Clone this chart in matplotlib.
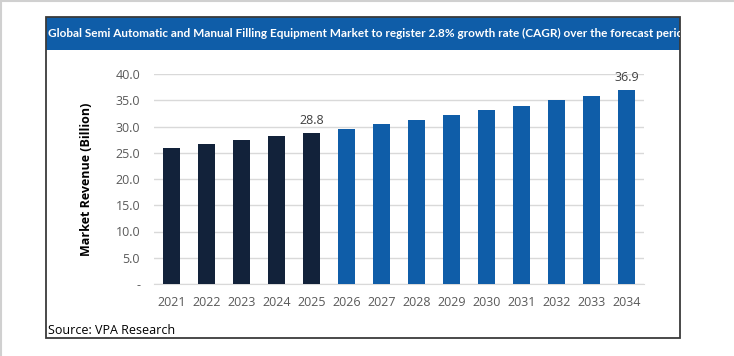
import numpy as np
import matplotlib.pyplot as plt
from matplotlib.patches import Rectangle

years = ['2021', '2022', '2023', '2024', '2025', '2026', '2027',
         '2028', '2029', '2030', '2031', '2032', '2033', '2034']
revenue = [26.0, 26.7, 27.4, 28.1, 28.8, 29.6, 30.4,
           31.3, 32.2, 33.1, 34.0, 35.0, 35.9, 36.9]
n_hist = 5  # 2021-2025 actual, rest forecast
labelled = ['2025', '2034']
yticks = [0, 5, 10, 15, 20, 25, 30, 35, 40]

title = ('Global Semi Automatic and Manual Filling Equipment Market to register '
         '2.8% growth rate (CAGR) over the forecast period')

navy = '#12223A'
blue = '#0F5DA8'
gray_txt = '#595959'

W, H = 734, 356
fig = plt.figure(figsize=(W / 100, H / 100), dpi=100)
fig.patch.set_facecolor('white')

def fx(px):
    return px / W

def fy(py):
    return 1 - py / H

# outer page lines
fig.add_artist(plt.Line2D([0, 1], [fy(1), fy(1)], color='#D0D0D0', lw=1.5))
fig.add_artist(plt.Line2D([fx(1), fx(1)], [0, 1], color='#D0D0D0', lw=1.5))

# chart frame
fig.add_artist(Rectangle((fx(46), fy(338)), fx(680) - fx(46), fy(17) - fy(338),
                         fill=False, edgecolor='#3A3A3A', lw=1.3, zorder=5))
# title bar (title runs past the bar and is clipped, as in the original)
bar_rect = Rectangle((fx(46), fy(50)), fx(680) - fx(46), fy(17) - fy(50),
                     facecolor='#0F5DA8', edgecolor='none', zorder=4)
fig.add_artist(bar_rect)
t = fig.text(fx(48), fy(33.5), title, color='white', fontsize=8.45,
             fontweight='bold', family='Lato', va='center', ha='left', zorder=6)
t.set_clip_path(bar_rect)

ax = fig.add_axes([fx(154), fy(284), fx(644) - fx(154), fy(74) - fy(284)])
x = np.arange(len(years))
colors = [navy if i < n_hist else blue for i in range(len(years))]
ax.bar(x, revenue, width=0.5, color=colors, zorder=3)

for i, y in enumerate(years):
    if y in labelled:
        ax.text(x[i], revenue[i] + 1.2, f'{revenue[i]:.1f}', ha='center',
                va='bottom', fontsize=9, color='#404040', family='Open Sans')

ax.set_xlim(-0.5, 13.5)
ax.set_ylim(0, 40)
ax.set_yticks(yticks)
ax.set_yticklabels(['-' if v == 0 else f'{v:.1f}' for v in yticks])
ax.set_xticks(x)
ax.set_xticklabels(years)
ax.grid(axis='y', color='#D9D9D9', lw=1, zorder=0)
for s in ['top', 'right', 'left']:
    ax.spines[s].set_visible(False)
ax.spines['bottom'].set_color('#D9D9D9')
ax.tick_params(axis='both', length=0, colors=gray_txt, labelsize=9)
ax.tick_params(axis='y', pad=10)
ax.tick_params(axis='x', pad=9)
for lab in ax.get_xticklabels() + ax.get_yticklabels():
    lab.set_family('Open Sans')
ax.set_ylabel('Market Revenue (Billion)', fontsize=9, fontweight='bold',
              family='Open Sans', color='black', labelpad=16)

fig.text(fx(48), fy(331), 'Source: VPA Research', fontsize=9, family='Open Sans',
         color='black', va='center', ha='left')

fig.savefig('out.png', dpi=100)
